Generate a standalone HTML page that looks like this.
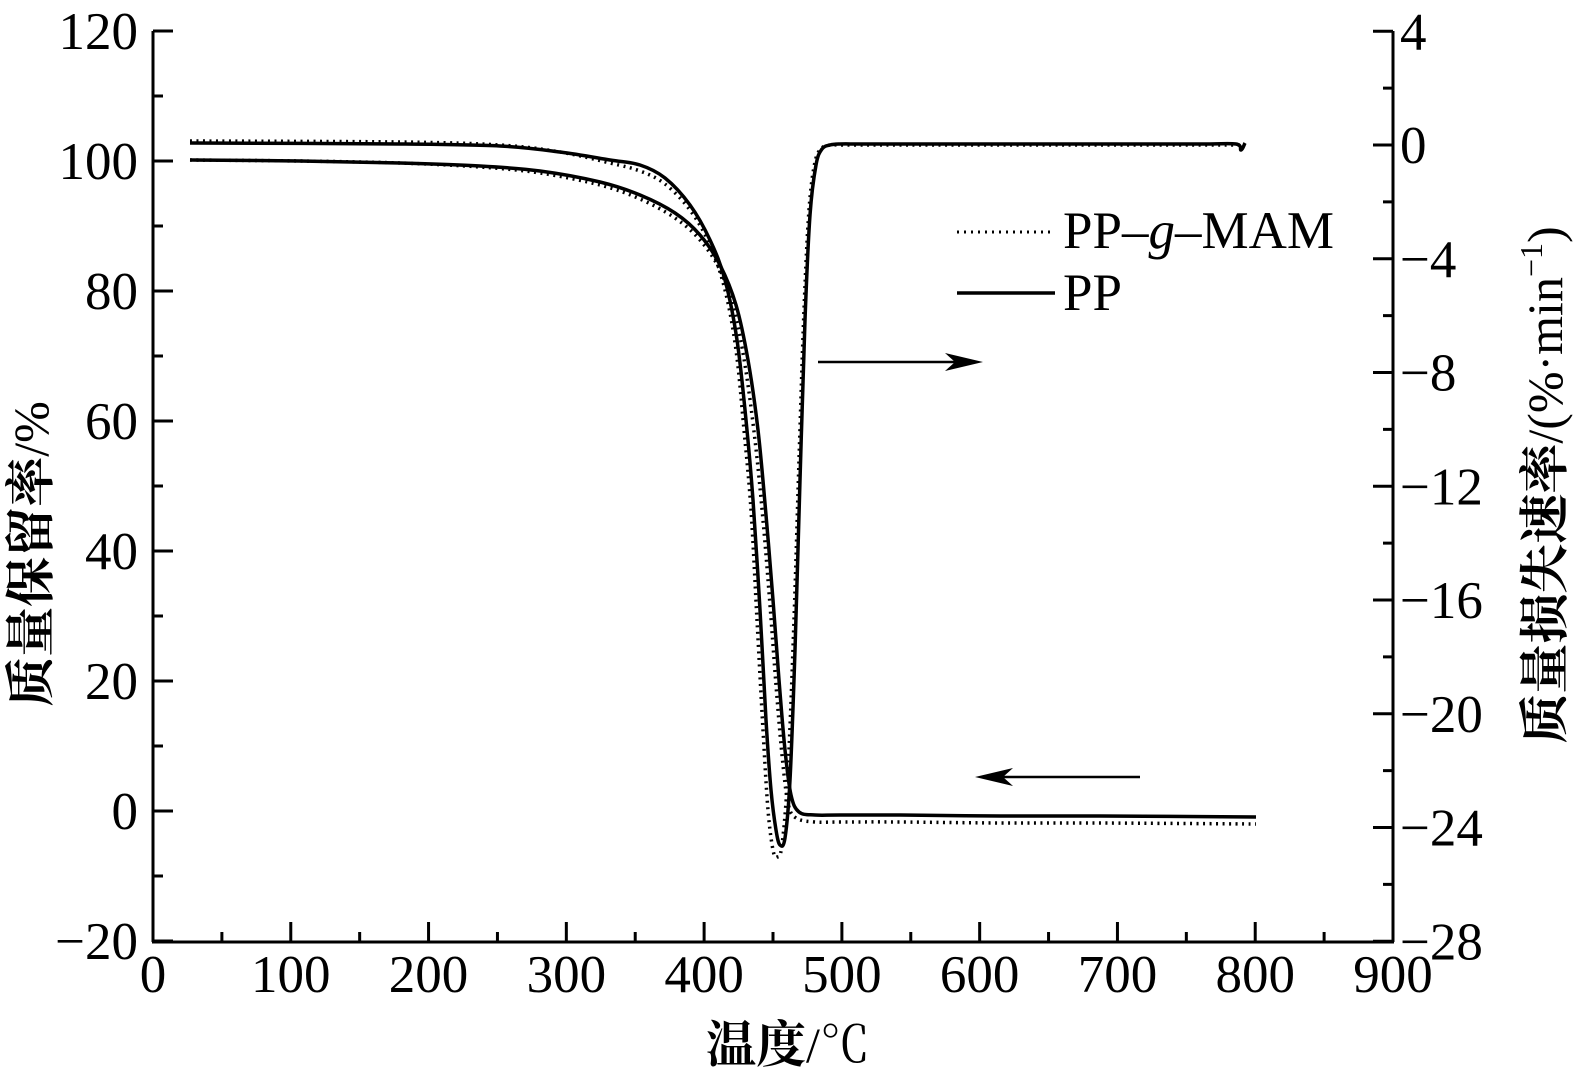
<!DOCTYPE html>
<html><head><meta charset="utf-8"><style>
html,body{margin:0;padding:0;background:#fff;}
svg{display:block;}
text{font-family:"Liberation Serif","Noto Serif CJK SC",serif;fill:#000;}
</style></head><body>
<svg width="1583" height="1081" viewBox="0 0 1583 1081" xmlns="http://www.w3.org/2000/svg">
<g stroke="#000" stroke-width="3" fill="none">
<line x1="153" y1="31" x2="153" y2="942"/>
<line x1="1393" y1="31" x2="1393" y2="942"/>
<line x1="152" y1="942" x2="1394" y2="942"/>
</g>
<g id="ticks" stroke="#000" stroke-width="3"></g>
<g id="labels" font-size="53"></g>
<g fill="none" stroke="#000" stroke-width="3.5" stroke-linejoin="round">
<path id="dtgD" stroke-dasharray="2 4.5"/>
<path id="tgD" stroke-dasharray="2 4.5"/>
<path id="dtgS"/>
<path id="tgS"/>
</g>
<line x1="957" y1="232" x2="1055" y2="232" stroke="#000" stroke-width="3" stroke-dasharray="2 5"/>
<text x="1063" y="248" font-size="53">PP–<tspan font-style="italic">g</tspan>–MAM</text>
<line x1="957" y1="293" x2="1055" y2="293" stroke="#000" stroke-width="3.5"/>
<text x="1063" y="310" font-size="53">PP</text>
<line x1="818" y1="362" x2="970" y2="362" stroke="#000" stroke-width="2.5"/>
<path d="M983 362 L945 353 L955 362 L945 371 Z" fill="#000"/>
<line x1="988" y1="777" x2="1140" y2="777" stroke="#000" stroke-width="2.5"/>
<path d="M975 777 L1013 768 L1003 777 L1013 786 Z" fill="#000"/>
<text x="788" y="1062" font-size="50" text-anchor="middle"><tspan font-family="Noto Serif CJK SC,serif" font-weight="bold">温度</tspan>/℃</text>
<text transform="translate(48,554) rotate(-90)" font-size="50" text-anchor="middle"><tspan font-family="Noto Serif CJK SC,serif" font-weight="bold">质量保留率</tspan>/%</text>
<text transform="translate(1562,485) rotate(-90)" font-size="50" text-anchor="middle"><tspan font-family="Noto Serif CJK SC,serif" font-weight="bold">质量损失速率</tspan>/(%·min<tspan font-size="32" dy="-20">−1</tspan><tspan dy="20">)</tspan></text>
</svg>
<script>
const NS="http://www.w3.org/2000/svg";
const X=t=>153+t*1240/900, YL=v=>161+(100-v)*6.5, YR=v=>145-v*(910/32);
const tk=document.getElementById('ticks'), lb=document.getElementById('labels');
function ln(a,b,c,d){const l=document.createElementNS(NS,'line');l.setAttribute('x1',a);l.setAttribute('y1',b);l.setAttribute('x2',c);l.setAttribute('y2',d);tk.appendChild(l);}
function tx(x,y,s,anc){const t=document.createElementNS(NS,'text');t.setAttribute('x',x);t.setAttribute('y',y);t.setAttribute('text-anchor',anc);t.textContent=s;lb.appendChild(t);}
for(let t=0;t<=900;t+=50){const x=X(t);ln(x,942,x,t%100==0?922:932);if(t%100==0)tx(x,992,String(t),'middle');}
for(let v=-20;v<=120;v+=10){const y=YL(v);ln(153,y,v%20==0?173:163,y);if(v%20==0)tx(138,y+18,(v<0?'−'+(-v):String(v)),'end');}
for(let v=-28;v<=4;v+=2){const y=YR(v);ln(1393,y,v%4==0?1373:1383,y);if(v%4==0)tx(1400,y+18,(v<0?'−'+(-v):String(v)),'start');}
function smooth(id,pts){let d='M'+pts[0][0]+' '+pts[0][1];for(let i=1;i<pts.length;i++){const p0=pts[Math.max(i-2,0)],p1=pts[i-1],p2=pts[i],p3=pts[Math.min(i+1,pts.length-1)];
d+=` C${p1[0]+(p2[0]-p0[0])/6} ${p1[1]+(p2[1]-p0[1])/6} ${p2[0]-(p3[0]-p1[0])/6} ${p2[1]-(p3[1]-p1[1])/6} ${p2[0]} ${p2[1]}`;}document.getElementById(id).setAttribute('d',d);}
smooth('dtgS',[[190,143],[400,144],[500,146],[560,152],[610,160],[640,165],[665,178],[690,205],[710,240],[725,280],[737,340],[746,420],[753,500],[760,610],[766,720],[771,790],[776,830],[780,845],[785,838],[790,780],[795,650],[800,480],[805,320],[810,215],[816,165],[822,149],[830,145],[840,144],[860,144],[900,144],[1000,144],[1100,144],[1200,144],[1236,144],[1241,150],[1245,143]]);
smooth('dtgD',[[190,141],[400,142],[500,145],[560,152],[610,163],[640,171],[665,184],[690,210],[710,245],[725,290],[736,350],[744,430],[751,510],[757,620],[763,730],[768,810],[773,850],[777,857],[782,845],[788,770],[794,620],[799,460],[804,310],[809,210],[815,162],[822,148],[830,145],[840,145],[860,145],[900,145],[1000,145],[1100,145],[1200,145],[1240,145]]);
smooth('tgS',[[190,160],[300,161],[400,163],[480,166],[540,171],[600,182],[640,195],[675,213],[700,235],[720,265],[736,305],[748,360],[758,430],[766,515],[773,600],[779,680],[785,750],[791,795],[799,812],[815,815],[840,815],[900,815],[1000,816],[1100,816],[1256,817]]);
smooth('tgD',[[190,160],[300,161],[400,163],[480,167],[540,173],[600,185],[640,199],[675,218],[700,240],[720,270],[734,310],[745,365],[755,440],[763,520],[770,605],[776,685],[782,755],[788,803],[796,818],[815,822],[840,822],[900,822],[1000,823],[1100,823],[1256,824]]);
</script>
</body></html>
